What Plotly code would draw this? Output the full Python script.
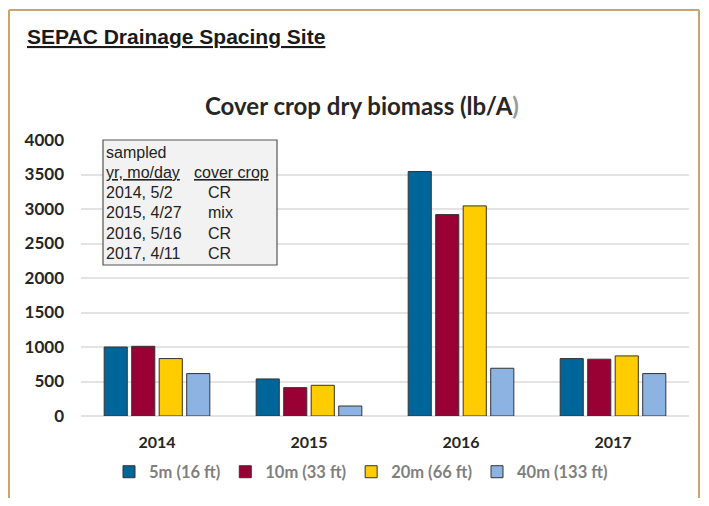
import plotly.graph_objects as go

years = ["2014", "2015", "2016", "2017"]
series_names = ["5m (16 ft)", "10m (33 ft)", "20m (66 ft)", "40m (133 ft)"]
s5m = [1000, 537, 3543, 832]
s10m = [1010, 411, 2919, 823]
s20m = [832, 445, 3045, 871]
s40m = [615, 145, 692, 615]
series_values = [s5m, s10m, s20m, s40m]
colors = ["#00669A", "#990033", "#FFCC00", "#8DB3E2"]
y_ticks = [0, 500, 1000, 1500, 2000, 2500, 3000, 3500, 4000]

box_col1 = ["sampled", "<u>yr, mo/day</u>", "2014, 5/2", "2015, 4/27", "2016, 5/16", "2017, 4/11"]
box_col2 = ["", "<u>cover crop</u>", "CR", "mix", "CR", "CR"]

OFF = 8  # page body margin
W, H = 709 - OFF, 506 - 2 * OFF
# plot area in page pixels: x 81..689, y 140..416
PL, PR, PT, PB = 81, 689, 140, 416
L = PL - OFF
T = PT - OFF
R = W - (PR - OFF)
B = H - (PB - OFF)
pw, ph = PR - PL, PB - PT

def px(x):
    return (x - PL) / pw

def py(y):
    return (PB - y) / ph

fig = go.Figure()
for name, vals, c in zip(series_names, series_values, colors):
    fig.add_trace(go.Bar(x=years, y=vals, name=name, marker=dict(color=c, line=dict(color="#333333", width=1))))

fig.update_layout(
    width=W, height=H,
    margin=dict(l=L, r=R, t=T, b=B, autoexpand=False),
    paper_bgcolor="white", plot_bgcolor="white",
    barmode="group", bargap=0.276, bargroupgap=0.16,
    showlegend=True,
    legend=dict(orientation="h", x=px(361), xanchor="center", y=py(472), yanchor="middle",
                font=dict(family="Lato", size=16.5, color="#7F7F7F", weight="bold"),
                itemwidth=30, traceorder="normal"),
    font=dict(family="Lato"),
)
fig.update_xaxes(showline=False, ticks="", ticklabelstandoff=15, automargin=False,
                 tickfont=dict(family="Lato", size=16, color="#262626", weight="bold"))
fig.update_yaxes(range=[0, 4000], tickvals=y_ticks, showgrid=True, gridcolor="#E3E3E3", gridwidth=1.5,
                 zeroline=True, zerolinecolor="#E3E3E3", zerolinewidth=1.5, automargin=False,
                 ticklabelstandoff=16,
                 tickfont=dict(family="Lato", size=17, color="#262626", weight="bold"))

# outer frame (left, top, right edges)
frame = dict(color="#C9A46E", width=2)
FR = 699
fig.add_shape(type="line", xref="paper", yref="paper", x0=px(9), x1=px(9), y0=py(530), y1=py(10), line=frame, layer="above")
fig.add_shape(type="line", xref="paper", yref="paper", x0=px(9), x1=px(FR), y0=py(10), y1=py(10), line=frame, layer="above")
fig.add_shape(type="line", xref="paper", yref="paper", x0=px(FR), x1=px(FR), y0=py(530), y1=py(10), line=frame, layer="above")
# info box
fig.add_shape(type="rect", xref="paper", yref="paper", x0=px(103), x1=px(277), y0=py(265), y1=py(140),
              fillcolor="#F2F2F2", line=dict(color="#555555", width=1.2), layer="above")

row_y = [152, 172, 192, 212, 233, 253]
for t1, t2, yy in zip(box_col1, box_col2, row_y):
    fig.add_annotation(text=t1, xref="paper", yref="paper", x=px(104), y=py(yy), xanchor="left", yanchor="middle",
                       showarrow=False, font=dict(family="Liberation Sans", size=16, color="#222222"))
    if t2:
        x2 = 192 if t2.startswith("<u>") else 206
        fig.add_annotation(text=t2, xref="paper", yref="paper", x=px(x2), y=py(yy), xanchor="left", yanchor="middle",
                           showarrow=False, font=dict(family="Liberation Sans", size=16, color="#222222"))

fig.add_annotation(text="<u>SEPAC Drainage Spacing Site</u>", xref="paper", yref="paper", x=px(25), y=py(37),
                   xanchor="left", yanchor="middle", showarrow=False,
                   font=dict(family="Liberation Sans", size=21, color="#1A1A1A", weight="bold"))
fig.add_annotation(text="Cover crop dry biomass (lb/A<span style='color:#999999'>)</span>", xref="paper", yref="paper",
                   x=px(362), y=py(106), xanchor="center", yanchor="middle", showarrow=False,
                   font=dict(family="Lato", size=24, color="#262626", weight="bold"))

fig.write_html("out.html")
